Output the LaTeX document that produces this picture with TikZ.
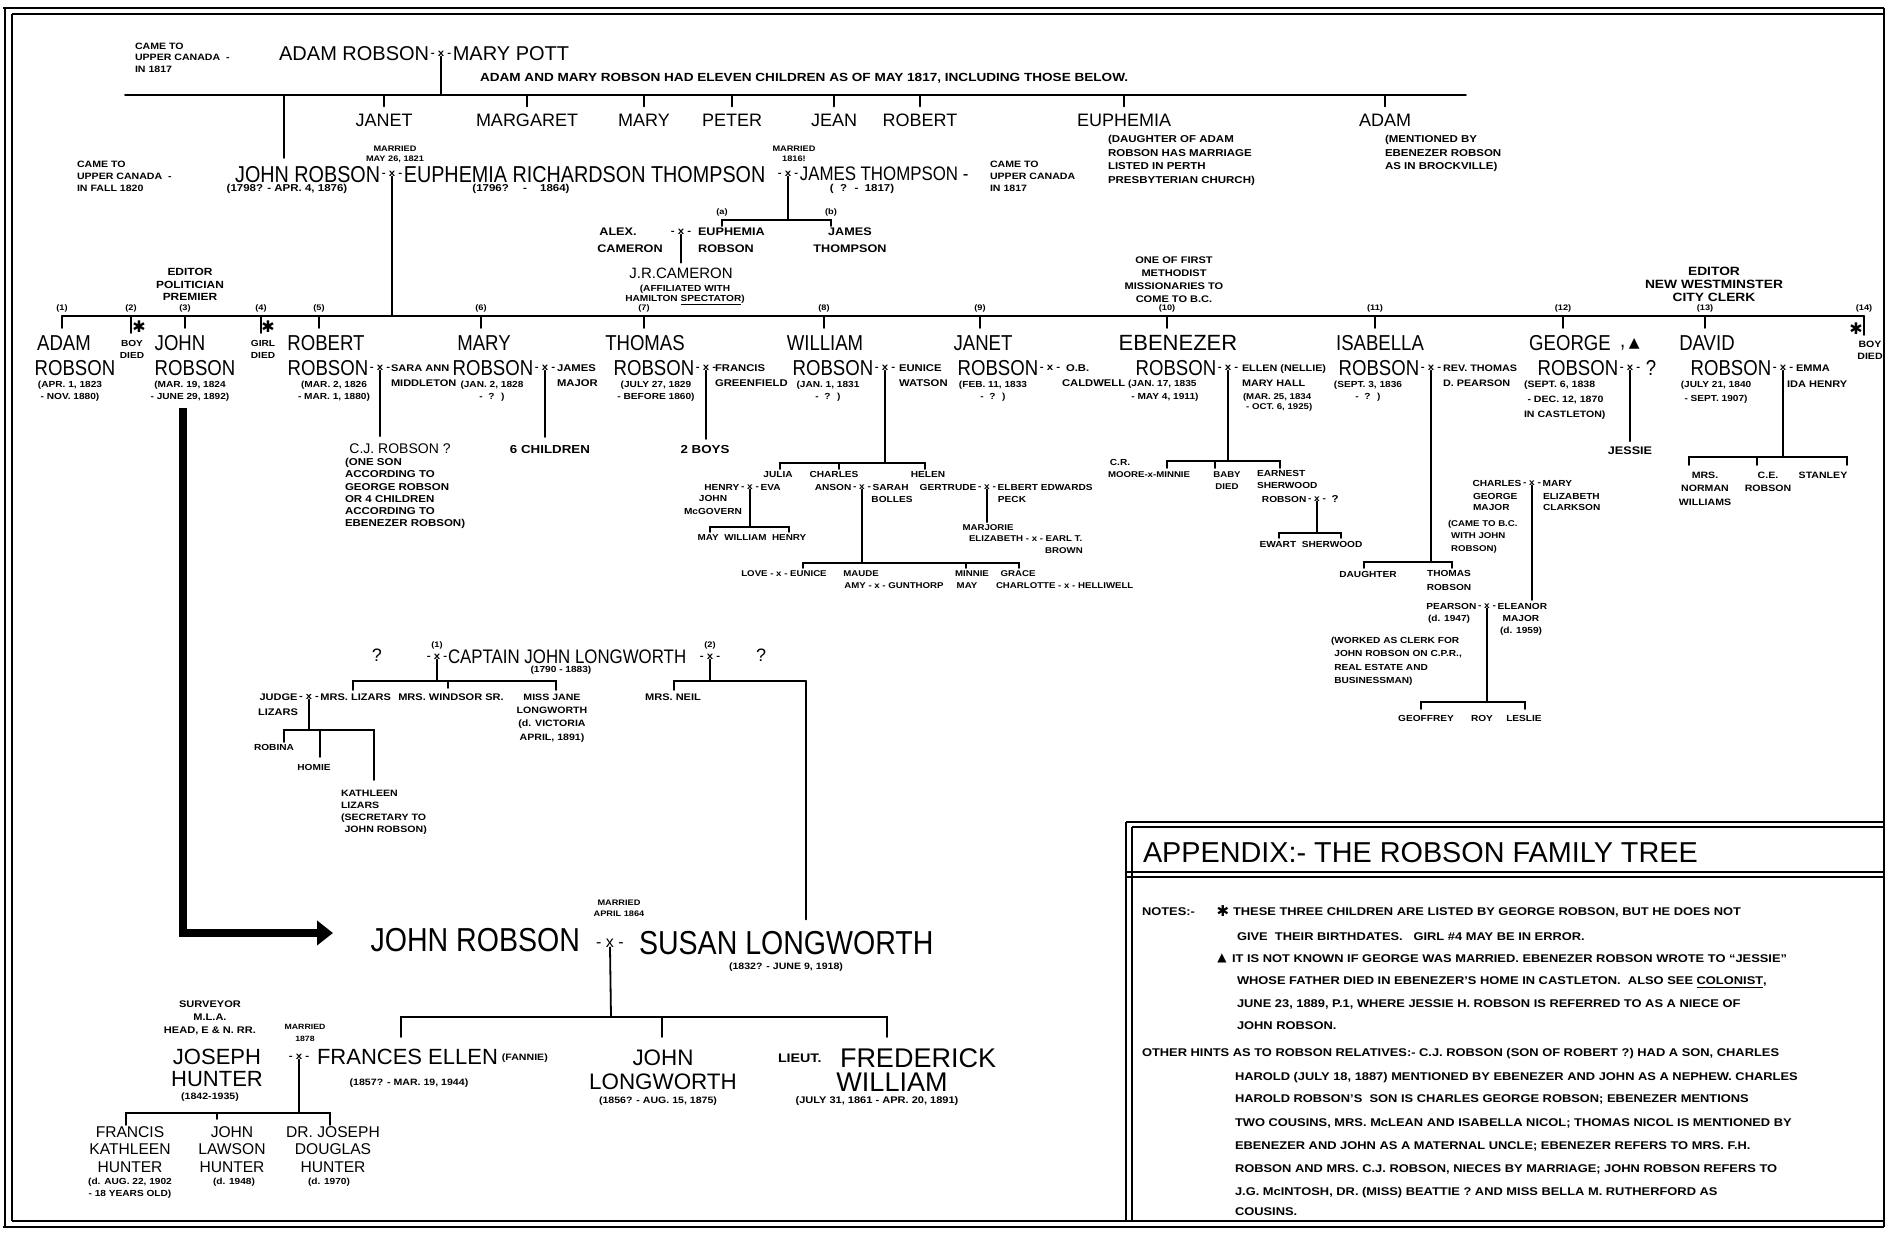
\documentclass[tikz,border=0pt]{standalone}
\usepackage{fontspec}
\setmainfont{Liberation Sans}
\newfontfamily\bigf[FakeStretch=0.86]{Liberation Sans}
\newfontfamily\handf[FakeStretch=1.15]{Liberation Sans}
\newfontfamily\symf{DejaVu Sans}
\usetikzlibrary{arrows.meta,calc}
\tikzset{
  every node/.style={inner sep=0pt, outer sep=0pt, text depth=0pt},
  ln/.style={line width=0.9pt, line cap=round},
  hs/.style 2 args={font=\handf\bfseries\fontsize{#1}{#2}\selectfont},
  bg/.style={font=\bigf\fontsize{#1}{#1}\selectfont},
  bw/.style 2 args={font=\fontsize{#1}{#2}\selectfont},
  mx/.style={hs={5}{6}, inner xsep=0.8pt},
  ml/.style={align=left, anchor=north west},
  mc/.style={align=center, anchor=north},
}
\begin{document}
\begin{tikzpicture}[x=0.5pt,y=-0.5pt]
\fill[white] (0,0) rectangle (1886,1235);
\useasboundingbox (0,0) rectangle (1886,1235);

% ---------- frame ----------
\draw[line width=1.3pt] (3,8) -- (1884,8);
\draw[line width=0.8pt] (12,14) -- (1884,14);
\draw[line width=1.1pt] (5,8) -- (5,1227);
\draw[line width=0.7pt] (12,14) -- (12,1221);
\draw[line width=0.7pt] (12,1221) -- (1884,1221);
\draw[line width=1.3pt] (3,1227) -- (1884,1227);
\draw[line width=0.6pt] (1884,8) -- (1884,1227);

% ---------- appendix box ----------
\draw[line width=1pt] (1126,822) -- (1126,1221);
\draw[line width=0.6pt] (1132,827) -- (1132,1221);
\draw[line width=1pt] (1126,822) -- (1884,822);
\draw[line width=0.6pt] (1132,827) -- (1884,827);
\draw[line width=1pt] (1126,872) -- (1884,872);
\draw[line width=0.6pt] (1126,877) -- (1884,877);

% ---------- generation 0 ----------
\node[hs={4.6}{5.8}, ml] (came1) at (135,42.7) {CAME TO\\UPPER CANADA \ -\\IN 1817};
\node[mx] (m0) at (441,54) {- x -};
\node[bw={10}{12}, anchor=east] (adamR) at (m0.west) {ADAM ROBSON};
\node[bw={10}{12}, anchor=west] (maryP) at (m0.east) {MARY POTT};
\node[hs={5.9}{7}, anchor=west] (eleven) at (480,77) {ADAM AND MARY ROBSON HAD ELEVEN CHILDREN AS OF MAY 1817, INCLUDING THOSE BELOW.};
\coordinate (L0a) at (125,95); \coordinate (L0b) at (1466,95);
\draw[ln] (L0a) -- (L0b);
\draw[ln] (m0.south) -- (m0.south |- L0a);
\foreach \nm/\tx/\cx in {janet0/JANET/384, margaret0/MARGARET/527, mary0/MARY/644, peter0/PETER/732, jean0/JEAN/834, robert0/ROBERT/920, euphemia0/EUPHEMIA/1124, adam0/ADAM/1385}{
  \node[bw={9}{10}] (\nm) at (\cx,120) {\tx};
  \draw[ln] (\nm.north |- L0a) -- ++(0,11.5);
}
\node[hs={5}{6.75}, ml] (euphnote) at (1108,135.4) {(DAUGHTER OF ADAM\\ROBSON HAS MARRIAGE\\LISTED IN PERTH\\PRESBYTERIAN CHURCH)};
\node[hs={5}{6.75}, ml] (adamnote) at (1385,135.4) {(MENTIONED BY\\EBENEZER ROBSON\\AS IN BROCKVILLE)};

% ---------- generation 1 ----------
\node[hs={4.6}{6}, ml] (came2) at (77,160.7) {CAME TO\\UPPER CANADA \ -\\IN FALL 1820};
\node[mx] (m1) at (392,174) {- x -};
\node[bg=11.5, anchor=east] (john1) at (m1.west) {JOHN ROBSON};
\node[bg=11.5, anchor=west] (euph1) at (m1.east) {EUPHEMIA RICHARDSON THOMPSON};
\node[mx] (m2) at (788,174) {- x -};
\node[bg=9.8, anchor=west] (james1) at (m2.east) {JAMES THOMPSON -};
\node[hs={4.6}{6}, ml] (came3) at (990,160.7) {CAME TO\\UPPER CANADA\\IN 1817};
\node[hs={4}{5}, mc] (marr1) at (395,146) {MARRIED\\MAY 26, 1821};
\node[hs={4}{5}, mc] (marr2) at (794,146) {MARRIED\\1816!};
\node[hs={5}{6}] (john1d) at (287,188) {(1798? - APR. 4, 1876)};
\node[hs={5}{6}] (euph1d) at (521,188) {(1796? \quad - \quad 1864)};
\node[hs={5}{6}] (james1d) at (862,188) {( \ ? \ - \ 1817)};
\coordinate (d1) at (284,95);
\draw[ln] (d1) -- ($(d1 |- john1.north)+(0,-8)$);

% Thompson children
\coordinate (tb1) at (722,220); \coordinate (tb2) at (831,220);
\draw[ln] (m2.south) -- (m2.south |- tb1);
\draw[ln] ($(tb1)+(0,6)$) -- (tb1) -- (tb2) -- ($(tb2)+(0,6)$);
\node[hs={4}{5}] (lba) at (722,212) {(a)};
\node[hs={4}{5}] (lbb) at (831,212) {(b)};
\node[mx, hs={5}{6}] (m3) at (681,232) {- x -};
\node[hs={5.5}{6}] (alex) at (618,232) {ALEX.};
\node[hs={5.5}{6}, anchor=west] (euph2) at (698,232) {EUPHEMIA};
\node[hs={5.5}{6}] (cam) at (630,249) {CAMERON};
\node[hs={5.5}{6}] (rob2) at (726,249) {ROBSON};
\node[hs={5.5}{8.5}, mc] (jt) at (850,228) {JAMES\\THOMPSON};
\node[bw={7.5}{8}] (jrc) at (681,273) {J.R.CAMERON};
\draw[ln] (m3.south) -- ($(jrc.north)+(0,-5)$);
\node[hs={4.4}{5}, mc] (affil) at (685,284.8) {(AFFILIATED WITH\\HAMILTON \underline{SPECTATOR})};

% ---------- generation 2 line ----------
\coordinate (L1a) at (62,316); \coordinate (L1b) at (1864,316);
\draw[ln] (L1a) -- (L1b);
\draw[ln] (m1.south) -- (m1.south |- L1a);
\foreach \n/\x in {1/62,2/131,3/185,4/261,5/319,6/481,7/644,8/824,9/980,10/1167,11/1375,12/1563,13/1705,14/1864}{
  \node[hs={4}{5}] (num\n) at (\x,308) {(\n)};
  \draw[ln] (\x,316) -- (\x,328);
}
\draw[ln] (131,328) -- (131,333);
\draw[ln] (261,328) -- (261,333);
\draw[ln] (1864,328) -- (1864,335);
\node[font=\symf\fontsize{8}{8}\selectfont] (st2) at (139,327) {✱};
\node[font=\symf\fontsize{8}{8}\selectfont] (st4) at (268,327) {✱};
\node[font=\symf\fontsize{8}{8}\selectfont] (st14) at (1856,329) {✱};

\node[hs={5.2}{6.25}, mc] (ed1) at (190,268.3) {EDITOR\\POLITICIAN\\PREMIER};
\node[hs={4.8}{6.5}, mc] (meth) at (1174,256.6) {ONE OF FIRST\\METHODIST\\MISSIONARIES TO\\COME TO B.C.};
\node[hs={6}{6.5}, mc] (ed2) at (1714,266.7) {EDITOR\\NEW WESTMINSTER\\CITY CLERK};

% 1 ADAM
\node[bg=10.8] (c1a) at (64,343) {ADAM};
\node[bg=10.8] (c1b) at (75,368) {ROBSON};
\node[hs={4.4}{6}, mc] (c1d) at (70,380.8) {(APR. 1, 1823\\- NOV. 1880)};
% 2
\node[hs={4.4}{6}, mc] (c2) at (132,340.8) {BOY\\DIED};
% 3 JOHN
\node[bg=10.8] (c3a) at (180,343) {JOHN};
\node[bg=10.8] (c3b) at (195,368) {ROBSON};
\node[hs={4.4}{6}, mc] (c3d) at (190,380.8) {(MAR. 19, 1824\\- JUNE 29, 1892)};
% 4
\node[hs={4.4}{6}, mc] (c4) at (263,340.8) {GIRL\\DIED};
% 5 ROBERT
\node[bg=10.8] (c5a) at (326,343) {ROBERT};
\node[mx] (m5) at (380,368) {- x -};
\node[bg=10.8, anchor=east] (c5b) at (m5.west) {ROBSON};
\node[hs={4.8}{7.5}, ml] (c5s) at (391,364.6) {SARA ANN\\MIDDLETON};
\node[hs={4.4}{6}, mc] (c5d) at (334,380.8) {(MAR. 2, 1826\\- MAR. 1, 1880)};
\node[bw={7}{8}] (cj) at (400,449) {C.J. ROBSON ?};
\draw[ln] (m5.south) -- ($(m5.south |- cj.north)+(0,-8)$);
\node[hs={5}{6.1}, ml] (cjn) at (345,458.4) {(ONE SON\\ACCORDING TO\\GEORGE ROBSON\\OR 4 CHILDREN\\ACCORDING TO\\EBENEZER ROBSON)};
% 6 MARY
\node[bg=10.8] (c6a) at (484,343) {MARY};
\node[mx] (m6) at (545,368) {- x -};
\node[bg=10.8, anchor=east] (c6b) at (m6.west) {ROBSON};
\node[hs={4.9}{7.5}, ml] (c6s) at (557,364.5) {JAMES\\MAJOR};
\node[hs={4.4}{6}, mc] (c6d) at (492,380.8) {(JAN. 2, 1828\\- \ ? \ )};
\node[hs={5.8}{6}] (c6k) at (550,449) {6 CHILDREN};
\draw[ln] (m6.south) -- ($(m6.south |- c6k.north)+(0,-8)$);
% 7 THOMAS
\node[bg=10.8] (c7a) at (645,343) {THOMAS};
\node[mx] (m7) at (706,368) {- x -};
\node[bg=10.8, anchor=east] (c7b) at (m7.west) {ROBSON};
\node[hs={4.9}{7.5}, ml] (c7s) at (715,364.5) {FRANCIS\\GREENFIELD};
\node[hs={4.4}{6}, mc] (c7d) at (656,380.8) {(JULY 27, 1829\\- BEFORE 1860)};
\node[hs={5.8}{6}] (c7k) at (705,449) {2 BOYS};
\draw[ln] (m7.south) -- ($(m7.south |- c7k.north)+(0,-6)$);
% 8 WILLIAM
\node[bg=10.8] (c8a) at (825,343) {WILLIAM};
\node[mx] (m8) at (885,368) {- x -};
\node[bg=10.8, anchor=east] (c8b) at (m8.west) {ROBSON};
\node[hs={4.9}{7.5}, ml] (c8s) at (899,364.5) {EUNICE\\WATSON};
\node[hs={4.4}{6}, mc] (c8d) at (828,380.8) {(JAN. 1, 1831\\- \ ? \ )};
% 9 JANET
\node[bg=10.8] (c9a) at (983,343) {JANET};
\node[mx] (m9) at (1050,368) {- x -};
\node[bg=10.8, anchor=east] (c9b) at (m9.west) {ROBSON};
\node[hs={4.9}{6}, anchor=west] (c9s) at (1066,368) {O.B.};
\node[hs={4.9}{6}, anchor=west] (c9t) at (1062,383) {CALDWELL};
\node[hs={4.4}{6}, mc] (c9d) at (993,380.8) {(FEB. 11, 1833\\- \ ? \ )};
% 10 EBENEZER
\node[bw={11}{12}] (c10a) at (1178,343) {EBENEZER};
\node[mx] (m10) at (1228,368) {- x -};
\node[bg=10.8, anchor=east] (c10b) at (m10.west) {ROBSON};
\node[hs={4.7}{7.5}, ml] (c10s) at (1242,364.6) {ELLEN (NELLIE)\\MARY HALL};
\node[hs={4.2}{5}, ml] (c10sd) at (1243,393) {(MAR. 25, 1834\\\hphantom{(}- OCT. 6, 1925)};
\node[hs={4.4}{6.5}, ml] (c10d) at (1128,379.8) {(JAN. 17, 1835\\\hphantom{(}- MAY 4, 1911)};
% 11 ISABELLA
\node[bg=10.8] (c11a) at (1380,343) {ISABELLA};
\node[mx] (m11) at (1431,368) {- x -};
\node[bg=10.8, anchor=east] (c11b) at (m11.west) {ROBSON};
\node[hs={4.7}{7.5}, ml] (c11s) at (1443,364.6) {REV. THOMAS\\D. PEARSON};
\node[hs={4.4}{6}, mc] (c11d) at (1368,380.8) {(SEPT. 3, 1836\\- \ ? \ )};
% 12 GEORGE
\node[bg=10.8] (c12a) at (1570,343) {GEORGE};
\node[anchor=west, font=\bigf\fontsize{10.8}{10.8}\selectfont] (c12t) at (1620,343) {,\,{\symf\fontsize{7}{7}\selectfont ▲}};
\node[mx] (m12) at (1630,368) {- x -};
\node[bg=10.8, anchor=east] (c12b) at (m12.west) {ROBSON};
\node[bg=10.8, anchor=west] (c12q) at ([xshift=2pt]m12.east) {?};
\node[hs={4.6}{7.5}, ml] (c12d) at (1524,380.7) {(SEPT. 6, 1838\\\hphantom{(}- DEC. 12, 1870\\IN CASTLETON)};
\node[hs={5.5}{6}] (jessie) at (1630,451) {JESSIE};
\draw[ln] (m12.south) -- ($(jessie.north)+(0,-6)$);
% 13 DAVID
\node[bg=10.8] (c13a) at (1707,343) {DAVID};
\node[mx] (m13) at (1783,368) {- x -};
\node[bg=10.8, anchor=east] (c13b) at (m13.west) {ROBSON};
\node[hs={4.8}{6}, anchor=west] (c13s) at (1796,368) {EMMA};
\node[hs={4.8}{6}, anchor=west] (c13t) at (1787,384) {IDA HENRY};
\node[hs={4.4}{7}, mc] (c13d) at (1716,380.8) {(JULY 21, 1840\\- SEPT. 1907)};
\coordinate (db) at (1783,457);
\draw[ln] (m13.south) -- (db);
\draw[ln] (1689,465) -- (1689,457) -- (1847,457) -- (1847,465);
\draw[ln] (1757,457) -- (1757,465);
\node[hs={4.6}{6.75}, mc] (dk1) at (1705,471.7) {MRS.\\NORMAN\\WILLIAMS};
\node[hs={4.6}{6.75}, mc] (dk2) at (1768,471.7) {C.E.\\ROBSON};
\node[hs={4.6}{6.75}] (dk3) at (1823,475) {STANLEY};
% 14
\node[hs={4.6}{6}, mc] (c14) at (1870,340.7) {BOY\\DIED};

% ---------- William's descendants ----------
\draw[ln] (m8.south) -- (885,463);
\draw[ln] (780,469) -- (780,463) -- (925,463) -- (925,469);
\draw[ln] (839,463) -- (839,469);
\node[hs={4.4}{5}] (w1) at (778,474) {JULIA};
\node[hs={4.4}{5}] (w2) at (834,474) {CHARLES};
\node[hs={4.4}{5}] (w3) at (928,474) {HELEN};
\node[mx, hs={4.4}{5}] (mw1) at (750,487) {- x -};
\node[hs={4.4}{5}, anchor=east] (w1h) at (mw1.west) {HENRY};
\node[hs={4.4}{5}, anchor=west] (w1e) at (mw1.east) {EVA};
\node[hs={4.4}{6.5}, mc] (w1j) at (713,495.8) {JOHN\\McGOVERN};
\draw[ln] (mw1.south) -- (750,527);
\draw[ln] (710,532) -- (710,527) -- (789,527) -- (789,532);
\node[hs={4.3}{5}] (w1k) at (752,538) {MAY \ WILLIAM \ HENRY};
\node[mx, hs={4.4}{5}] (mw2) at (862,487) {- x -};
\node[hs={4.4}{5}, anchor=east] (w2a) at (mw2.west) {ANSON};
\node[hs={4.4}{5}, anchor=west] (w2s) at (mw2.east) {SARAH};
\node[hs={4.4}{5}] (w2b) at (892,499) {BOLLES};
\draw[ln] (mw2.south) -- (862,563);
\draw[ln] (803,568) -- (803,563) -- (1019,563) -- (1019,568);
\draw[ln] (966,563) -- (966,568);
\node[hs={4.2}{5}] (wk1) at (784,574) {LOVE - x - EUNICE};
\node[hs={4.2}{5}] (wk2) at (861,574) {MAUDE};
\node[hs={4.2}{5}] (wk3) at (894,586) {AMY - x - GUNTHORP};
\node[hs={4.2}{5}] (wk4) at (972,574) {MINNIE};
\node[hs={4.2}{5}] (wk5) at (967,586) {MAY};
\node[hs={4.2}{5}] (wk6) at (1018,574) {GRACE};
\node[hs={4.2}{5}, anchor=west] (wk7) at (996,586) {CHARLOTTE - x - HELLIWELL};
\node[mx, hs={4.4}{5}] (mw3) at (987,487) {- x -};
\node[hs={4.4}{5}, anchor=east] (w3g) at (mw3.west) {GERTRUDE};
\node[hs={4.4}{5}, anchor=west] (w3e) at (mw3.east) {ELBERT EDWARDS};
\node[hs={4.4}{5}] (w3p) at (1012,499) {PECK};
\node[hs={4.2}{5}] (w3m) at (988,528) {MARJORIE};
\draw[ln] (mw3.south) -- ($(mw3.south |- w3m.north)+(0,-3)$);
\node[hs={4.2}{5}, anchor=west] (w3mz) at (969,539) {ELIZABETH - x - EARL T.};
\node[hs={4.2}{5}] (w3b) at (1064,551) {BROWN};

% ---------- Ebenezer's descendants ----------
\draw[ln] (m10.south) -- (1228,461);
\draw[ln] (1167,468) -- (1167,461) -- (1280,461) -- (1280,468);
\draw[ln] (1215,461) -- (1215,468);
\node[hs={4.4}{5}] (e1) at (1120,462) {C.R.};
\node[hs={4.2}{5}, anchor=west] (e2) at (1108,475) {MOORE-x-MINNIE};
\node[hs={4.2}{6}, mc] (e3) at (1227,471.8) {BABY\\DIED};
\node[hs={4.4}{6}, ml] (e4) at (1257,470.8) {EARNEST\\SHERWOOD};
\node[mx, hs={4.4}{5}] (me1) at (1317,499) {- x -};
\node[hs={4.4}{5}, anchor=east] (e4r) at (me1.west) {ROBSON};
\node[hs={5}{5}, anchor=west] (e4q) at ([xshift=2pt]me1.east) {?};
\draw[ln] (me1.south) -- (1317,533);
\draw[ln] (1279,538) -- (1279,533) -- (1341,533) -- (1341,538);
\node[hs={4.4}{5}] (e5) at (1311,544) {EWART \ SHERWOOD};

% ---------- Isabella's descendants ----------
\draw[ln] (m11.south) -- (1431,562);
\draw[ln] (1364,568) -- (1364,562) -- (1452,562) -- (1452,568);
\node[hs={4.4}{5}] (i1) at (1368,574) {DAUGHTER};
\node[hs={4.4}{7}, mc] (i2) at (1449,570.8) {THOMAS\\ROBSON};
\node[mx, hs={4.4}{5}] (mi1) at (1487,606) {- x -};
\node[hs={4.4}{5}, anchor=east] (i2p) at (mi1.west) {PEARSON};
\node[hs={4.4}{5}, anchor=west] (i2e) at (mi1.east) {ELEANOR};
\node[hs={4.4}{5}] (i2d) at (1449,618) {(d. 1947)};
\node[hs={4.4}{6}, mc] (i2m) at (1521,615.8) {MAJOR\\(d. 1959)};
\draw[ln] (mi1.south) -- (1487,702);
\draw[ln] (1421,709) -- (1421,702) -- (1525,702) -- (1525,709);
\node[hs={4.4}{5}] (g1) at (1426,718) {GEOFFREY};
\node[hs={4.4}{5}] (g2) at (1482,718) {ROY};
\node[hs={4.4}{5}] (g3) at (1524,718) {LESLIE};
\node[hs={4.4}{6.8}, ml] (worked) at (1331,636.8) {(WORKED AS CLERK FOR\\\hphantom{(}JOHN ROBSON ON C.P.R.,\\\hphantom{(}REAL ESTATE AND\\\hphantom{(}BUSINESSMAN)};
\node[mx, hs={4.4}{5}] (mi2) at (1532,483) {- x -};
\node[hs={4.4}{5}, anchor=east] (i3c) at (mi2.west) {CHARLES};
\node[hs={4.4}{5}, anchor=west] (i3m) at (mi2.east) {MARY};
\node[hs={4.4}{5.5}, ml] (i3g) at (1473,493.8) {GEORGE\\MAJOR};
\node[hs={4.4}{5.5}, ml] (i3e) at (1543,493.8) {ELIZABETH\\CLARKSON};
\node[hs={4.2}{6.25}, ml] (i3n) at (1448,520) {(CAME TO B.C.\\\hphantom{(}WITH JOHN\\\hphantom{(}ROBSON)};
\draw[ln] (mi2.south) -- ($(mi2.south |- i2e.north)+(0,-3)$);

% ---------- Longworth ----------
\node[bw={9}{10}] (q1) at (377,655) {?};
\node[mx, hs={5}{6}] (lm1) at (437,657) {- x -};
\node[hs={4}{5}] (l1n) at (437,645) {(1)};
\node[bg=9.8, anchor=west] (capt) at (448,657) {CAPTAIN JOHN LONGWORTH};
\node[mx, hs={5}{6}] (lm2) at (710,657) {- x -};
\node[hs={4}{5}] (l2n) at (710,645) {(2)};
\node[bw={9}{10}] (q2) at (761,655) {?};
\node[hs={4.4}{5}] (capd) at (561,669) {(1790 - 1883)};
\draw[ln] (lm1.south) -- (437,681);
\draw[ln] (353,690) -- (353,681) -- (556,681) -- (556,690);
\draw[ln] (448,681) -- (448,688);
\node[mx, hs={4.8}{5}] (mj) at (309,697) {- x -};
\node[hs={4.8}{5}, anchor=east] (judge) at (mj.west) {JUDGE};
\node[hs={4.8}{5}, anchor=west] (mrsl) at (mj.east) {MRS. LIZARS};
\node[hs={4.8}{5}] (liz) at (278,712) {LIZARS};
\node[hs={4.8}{5}] (wind) at (451,697) {MRS. WINDSOR SR.};
\node[hs={4.6}{6.65}, mc] (jane) at (552,693.7) {MISS JANE\\LONGWORTH\\(d. VICTORIA\\APRIL, 1891)};
\node[hs={4.8}{5}] (neil) at (673,697) {MRS. NEIL};
\draw[ln] (lm2.south) -- (710,681);
\coordinate (lw1) at (806,681);
\draw[ln] (674,690) -- (674,681) -- (lw1);
\draw[ln] (mj.south) -- (309,730);
\draw[ln] (284,742) -- (284,730) -- (374,730) -- (374,780);
\draw[ln] (320,730) -- (320,757);
\node[hs={4.4}{5}] (rob) at (274,747) {ROBINA};
\node[hs={4.4}{5}] (hom) at (314,767) {HOMIE};
\node[hs={4.6}{6}, ml] (kath) at (341,789.7) {KATHLEEN\\LIZARS\\(SECRETARY TO\\\hphantom{(}JOHN ROBSON)};

% ---------- John Robson & Susan Longworth ----------
\coordinate (arrS) at (183,408);
\coordinate (arrE) at (333,933);
\draw[line width=3.6pt, line join=miter, -{Triangle[length=8pt,width=12pt]}] (arrS) |- (arrE);
\node[mx, font=\fontsize{8}{8}\selectfont] (mjr) at (610,943) {- x -};
\node[bg=16.6, anchor=east] (jr) at (580,940) {JOHN ROBSON};
\node[bg=16.6, anchor=west] (susan) at (639,943) {SUSAN LONGWORTH};
\draw[ln] (lw1) -- ($(lw1 |- susan.north)+(0,-12)$);
\node[hs={4}{5.5}, mc] (marr3) at (619,900) {MARRIED\\APRIL 1864};
\node[hs={4.6}{5}] (susd) at (786,966) {(1832? - JUNE 9, 1918)};
\draw[ln] (mjr.south) -- (611,1017);
\draw[ln] (401,1037) -- (401,1017) -- (887,1017) -- (887,1037);
\draw[ln] (662,1017) -- (662,1037);
\node[bw={11}{12}, anchor=west] (fran) at (317,1057) {FRANCES ELLEN};
\node[hs={4.6}{5}, anchor=west] (fann) at ([xshift=2pt]fran.east) {(FANNIE)};
\node[hs={4.6}{5}] (frand) at (409,1082) {(1857? - MAR. 19, 1944)};
\node[bw={11.2}{12}, mc] (jl) at (663,1050) {JOHN\\LONGWORTH};
\node[hs={4.6}{5}] (jld) at (658,1100) {(1856? - AUG. 15, 1875)};
\node[hs={6.2}{7}, anchor=west] (lieut) at (778,1058) {LIEUT.};
\node[bw={13.5}{14}, anchor=west] (fred) at (840,1058) {FREDERICK};
\node[bw={13.5}{14}] (will) at (892,1082) {WILLIAM};
\node[hs={4.8}{5}] (fredd) at (877,1100) {(JULY 31, 1861 - APR. 20, 1891)};

% ---------- Hunter ----------
\node[hs={4.8}{6.5}, mc] (surv) at (210,1000.6) {SURVEYOR\\M.L.A.\\HEAD, E \& N. RR.};
\node[hs={3.8}{6}, mc] (marr4) at (305,1024.3) {MARRIED\\1878};
\node[bw={11}{11}, mc] (jos) at (217,1049.1) {JOSEPH\\HUNTER};
\node[hs={4.6}{5}] (josd) at (210,1096) {(1842-1935)};
\node[mx, hs={5}{5}] (mh) at (299,1057) {- x -};
\draw[ln] (mh.south) -- (299,1113);
\draw[ln] (126,1125) -- (126,1113) -- (330,1113) -- (330,1125);
\draw[ln] (217,1113) -- (217,1119);
\node[bw={7.8}{8.75}, mc] (hk1) at (130,1126.4) {FRANCIS\\KATHLEEN\\HUNTER};
\node[hs={4.4}{6}, mc] (hk1d) at (130,1177.8) {(d. AUG. 22, 1902\\- 18 YEARS OLD)};
\node[bw={7.8}{8.75}, mc] (hk2) at (232,1126.4) {JOHN\\LAWSON\\HUNTER};
\node[hs={4.4}{6}, mc] (hk2d) at (234,1177.8) {(d. 1948)};
\node[bw={7.8}{8.75}, mc] (hk3) at (333,1126.4) {DR. JOSEPH\\DOUGLAS\\HUNTER};
\node[hs={4.4}{6}, mc] (hk3d) at (329,1177.8) {(d. 1970)};

% ---------- appendix text ----------
\node[bw={14.4}{15}, anchor=west] (title) at (1143,852) {APPENDIX:- THE ROBSON FAMILY TREE};
\node[hs={5.6}{6}, anchor=west] (notes) at (1142,912) {NOTES:-};
\node[font=\symf\fontsize{7.5}{7.5}\selectfont] (nstar) at (1223,911) {✱};
\node[hs={5.6}{6}, anchor=west] (n1) at (1233,912) {THESE THREE CHILDREN ARE LISTED BY GEORGE ROBSON, BUT HE DOES NOT};
\node[hs={5.6}{6}, anchor=west] (n2) at (1237,937) {GIVE \ THEIR BIRTHDATES. \ \ GIRL \#4 MAY BE IN ERROR.};
\node[font=\symf\fontsize{6}{6}\selectfont] (ntri) at (1222,958) {▲};
\node[hs={5.6}{6}, anchor=west] (n3) at (1232,959) {IT IS NOT KNOWN IF GEORGE WAS MARRIED. EBENEZER ROBSON WROTE TO “JESSIE”};
\node[hs={5.6}{6}, anchor=west] (n4) at (1237,981) {WHOSE FATHER DIED IN EBENEZER’S HOME IN CASTLETON. \ ALSO SEE \underline{COLONIST},};
\node[hs={5.6}{6}, anchor=west] (n5) at (1237,1004) {JUNE 23, 1889, P.1, WHERE JESSIE H. ROBSON IS REFERRED TO AS A NIECE OF};
\node[hs={5.6}{6}, anchor=west] (n6) at (1237,1026) {JOHN ROBSON.};
\node[hs={5.6}{6}, anchor=west] (n7) at (1142,1052) {OTHER HINTS AS TO ROBSON RELATIVES:- C.J. ROBSON (SON OF ROBERT ?) HAD A SON, CHARLES};
\node[hs={5.6}{6}, anchor=west] (n8) at (1235,1076) {HAROLD (JULY 18, 1887) MENTIONED BY EBENEZER AND JOHN AS A NEPHEW. CHARLES};
\node[hs={5.6}{6}, anchor=west] (n9) at (1235,1099) {HAROLD ROBSON’S \ SON IS CHARLES GEORGE ROBSON; EBENEZER MENTIONS};
\node[hs={5.6}{6}, anchor=west] (n10) at (1235,1123) {TWO COUSINS, MRS. McLEAN AND ISABELLA NICOL; THOMAS NICOL IS MENTIONED BY};
\node[hs={5.6}{6}, anchor=west] (n11) at (1235,1146) {EBENEZER AND JOHN AS A MATERNAL UNCLE; EBENEZER REFERS TO MRS. F.H.};
\node[hs={5.6}{6}, anchor=west] (n12) at (1235,1169) {ROBSON AND MRS. C.J. ROBSON, NIECES BY MARRIAGE; JOHN ROBSON REFERS TO};
\node[hs={5.6}{6}, anchor=west] (n13) at (1235,1191) {J.G. McINTOSH, DR. (MISS) BEATTIE ? AND MISS BELLA M. RUTHERFORD AS};
\node[hs={5.6}{6}, anchor=west] (n14) at (1235,1212) {COUSINS.};
\end{tikzpicture}
\end{document}
